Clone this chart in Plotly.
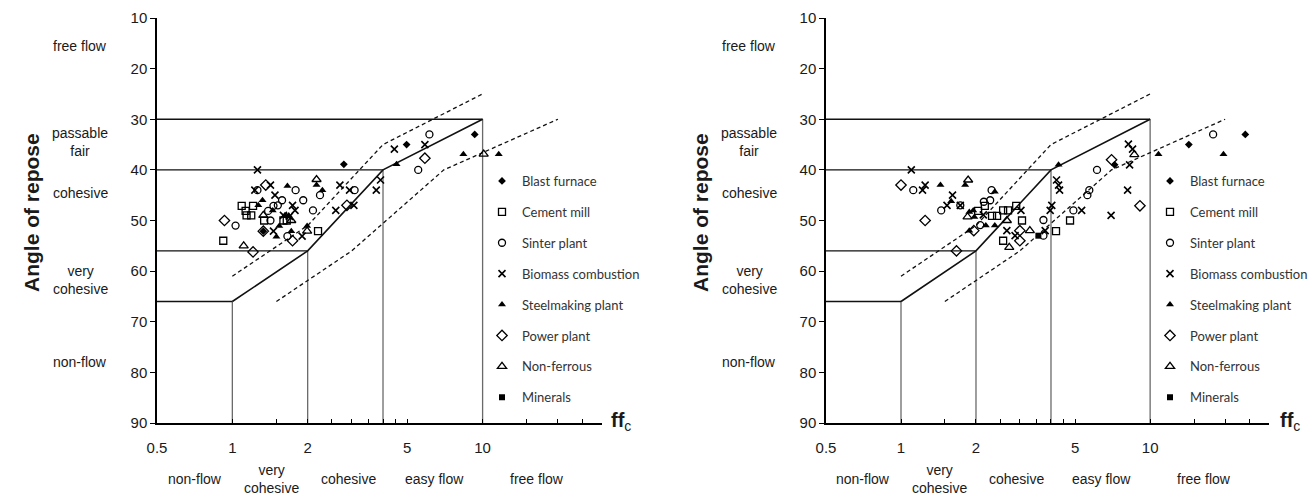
import math
import plotly.graph_objects as go

# ---------------- data ----------------
series_names = ["Blast furnace", "Cement mill", "Sinter plant", "Biomass combustion",
                "Steelmaking plant", "Power plant", "Non-ferrous", "Minerals"]

# left panel (ffc, angle of repose)
L_blast_ff = [2.79, 4.97, 9.3, 1.33]
L_blast_ang = [38.9, 35, 33, 52.1]
L_cement_ff = [1.09, 1.21, 1.13, 1.19, 1.14, 1.34, 1.6, 1.65, 2.2, 0.92]
L_cement_ang = [47.1, 47.1, 48.1, 49, 49, 50, 50, 50, 52.1, 54]
L_sinter_ff = [1.26, 1.79, 2.24, 3.08, 1.58, 1.92, 1.46, 1.39, 2.1, 1.03, 1.42, 1.66, 6.13, 5.53, 1.52]
L_sinter_ang = [44, 44, 45, 44, 46, 46, 47.1, 48.1, 48, 51, 50, 53.1, 33, 40, 47]
L_bio_ff = [1.26, 1.23, 1.42, 2.69, 2.94, 3.76, 3.91, 1.48, 1.74, 1.78, 1.6, 1.69, 1.46, 1.9,
            2.59, 3.06, 4.44, 5.88]
L_bio_ang = [40, 44, 43, 43, 44, 44, 42, 45, 47, 48, 49, 49.2, 52.1, 53.1, 48, 47, 35.9, 35]
L_steel_ff = [1.66, 2.17, 2.29, 1.32, 1.45, 1.27, 1.62, 1.68, 1.54, 1.5, 1.72, 1.99, 4.53, 8.38, 11.6]
L_steel_ang = [43.2, 43, 44, 46, 48, 47, 49, 49, 51.1, 53.2, 52.1, 51.1, 38.9, 36.9, 36.9]
L_power_ff = [1.36, 0.93, 1.33, 1.74, 1.21, 2.87, 5.88]
L_power_ang = [43, 50, 52.1, 54, 56.2, 47, 37.7]
L_nonfe_ff = [2.17, 1.33, 1.72, 1.99, 1.11, 10.1]
L_nonfe_ang = [41.9, 49, 50, 52.1, 55, 36.9]
L_min_ff = [None]
L_min_ang = [None]

# right panel
R_blast_ff = [7.2, 14.3, 24.1]
R_blast_ang = [39, 35, 33]
R_cement_ff = [2.17, 2.04, 2.57, 2.69, 2.32, 2.43, 2.9, 3.06, 4.77, 4.19, 2.57]
R_cement_ang = [47.1, 48.1, 48, 48, 49.1, 49.1, 47.1, 50, 50, 52.1, 54]
R_sinter_ff = [1.12, 2.31, 1.45, 1.73, 2.15, 2.28, 2.08, 3.73, 3.73, 6.12, 5.7, 5.6, 4.92, 17.9]
R_sinter_ang = [44, 44, 48, 47, 46.3, 46, 50.9, 49.9, 53, 40, 44, 45, 48, 33]
R_bio_ff = [1.10, 1.22, 1.25, 1.61, 1.53, 1.73, 2.14, 3.03, 2.66, 2.87, 3.79, 4.21, 4.29, 4.33,
            8.18, 8.5, 8.27, 8.12, 5.31, 6.97, 4.03, 3.97]
R_bio_ang = [40, 44, 43, 45, 47, 47, 48.9, 48, 52, 53, 52, 42, 43, 44,
             34.9, 35.9, 39, 44, 48, 49, 47, 48]
R_steel_ff = [1.44, 1.81, 2.38, 1.59, 1.88, 1.95, 1.97, 2.19, 2.38, 1.88, 4.29, 10.8, 19.7]
R_steel_ang = [43, 43, 44.3, 46.2, 48.3, 48, 49.3, 51, 51, 52, 39, 36.9, 36.9]
R_power_ff = [1.0, 1.25, 1.96, 3.0, 3.0, 1.67, 7.0, 9.1]
R_power_ang = [43, 50, 52, 52, 54, 56, 38, 47.1]
R_nonfe_ff = [1.86, 1.85, 2.66, 2.72, 3.29, 8.64]
R_nonfe_ang = [42, 49.3, 50, 55.3, 52, 37]
R_min_ff = [3.56]
R_min_ang = [53]

# classification boundaries (ffc classes vs angle of repose classes)
boundary_ff = [1, 2, 4, 10]
boundary_angle = [66, 56, 40, 30]
upper_ff = [1, 2, 4, 10]
upper_angle = [61, 51, 35, 25]
lower_ff = [1.5, 3, 7, 20]
lower_angle = [66, 56, 40, 30]

x_min, x_max = 0.5, 30
y_top, y_bottom = 10, 90

x_tickvals = [0.5, 1, 1.5, 2, 2.5, 3, 3.5, 4, 4.5, 5, 10, 15, 20, 25, 30]
x_ticktext = ["0.5", "1", "", "2", "", "", "", "", "", "5", "10", "", "", "", ""]
y_tickvals = [10, 20, 30, 40, 50, 60, 70, 80, 90]

x_class_labels = ["non-flow", "very<br>cohesive", "cohesive", "easy flow", "free flow"]
x_class_pos = [0.707, 1.43, 2.9, 6.4, 16.5]
y_class_labels = ["free flow", "passable<br>fair", "cohesive", "very<br>cohesive", "non-flow"]
y_class_pos = [15.5, 34.5, 44.6, 61.8, 78]

# ---------------- style ----------------
styles = [
    dict(symbol="diamond", size=6, color="black", line=dict(width=0)),
    dict(symbol="square-open", size=7, color="black", line=dict(width=1.3)),
    dict(symbol="circle-open", size=7, color="black", line=dict(width=1.3)),
    dict(symbol="x-thin", size=7, color="black", line=dict(width=1.6, color="black")),
    dict(symbol="triangle-up", size=7, color="black", line=dict(width=0)),
    dict(symbol="diamond-open", size=8, color="black", line=dict(width=1.3)),
    dict(symbol="triangle-up-open", size=8, color="black", line=dict(width=1.3)),
    dict(symbol="square", size=6, color="black", line=dict(width=0)),
]

left_sets = [(L_blast_ff, L_blast_ang), (L_cement_ff, L_cement_ang), (L_sinter_ff, L_sinter_ang),
             (L_bio_ff, L_bio_ang), (L_steel_ff, L_steel_ang), (L_power_ff, L_power_ang),
             (L_nonfe_ff, L_nonfe_ang), (L_min_ff, L_min_ang)]
right_sets = [(R_blast_ff, R_blast_ang), (R_cement_ff, R_cement_ang), (R_sinter_ff, R_sinter_ang),
              (R_bio_ff, R_bio_ang), (R_steel_ff, R_steel_ang), (R_power_ff, R_power_ang),
              (R_nonfe_ff, R_nonfe_ang), (R_min_ff, R_min_ang)]

fig = go.Figure()

TXT = "#1a1a1a"
FONT = "Liberation Sans, Arial, sans-serif"


def add_frame(xa, ya):
    hx, hy, vx, vy = [], [], [], []
    for f, a in zip(boundary_ff, boundary_angle):
        hx += [x_min, f, None]
        hy += [a, a, None]
        vx += [f, f, None]
        vy += [a, y_bottom, None]
    fig.add_trace(go.Scatter(x=vx, y=vy, mode="lines", line=dict(color="#6a6a6a", width=1.3),
                             xaxis=xa, yaxis=ya, showlegend=False, hoverinfo="skip"))
    fig.add_trace(go.Scatter(x=hx, y=hy, mode="lines", line=dict(color="#111", width=1.3),
                             xaxis=xa, yaxis=ya, showlegend=False, hoverinfo="skip"))
    fig.add_trace(go.Scatter(x=boundary_ff, y=boundary_angle, mode="lines",
                             line=dict(color="#111", width=1.6),
                             xaxis=xa, yaxis=ya, showlegend=False, hoverinfo="skip"))
    for fx, fy in ((upper_ff, upper_angle), (lower_ff, lower_angle)):
        fig.add_trace(go.Scatter(x=fx, y=fy, mode="lines",
                                 line=dict(color="#111", width=1.3, dash="4px,3px"),
                                 xaxis=xa, yaxis=ya, showlegend=False, hoverinfo="skip"))


add_frame("x", "y")
add_frame("x2", "y2")

for i, (name, st) in enumerate(zip(series_names, styles)):
    fx, fy = left_sets[i]
    fig.add_trace(go.Scatter(x=fx, y=fy, mode="markers", name=name, marker=st,
                             xaxis="x", yaxis="y", legend="legend", legendgroup="L%d" % i,
                             showlegend=True))
    fx, fy = right_sets[i]
    fig.add_trace(go.Scatter(x=fx, y=fy, mode="markers", name=name, marker=st,
                             xaxis="x2", yaxis="y2", legend="legend2", legendgroup="R%d" % i,
                             showlegend=True))

axis_common_x = dict(type="log", range=[math.log10(x_min), math.log10(x_max)],
                     showline=True, linecolor="black", linewidth=1.5, mirror=False,
                     ticks="inside", ticklen=4, tickwidth=1.3, tickcolor="black",
                     tickvals=x_tickvals, ticktext=x_ticktext, showgrid=False, zeroline=False,
                     tickfont=dict(family=FONT, size=15, color=TXT), ticklabelstandoff=10,
                     automargin=False)
axis_common_y = dict(range=[y_bottom, y_top], showline=True, linecolor="black", linewidth=1.5,
                     ticks="outside", ticklen=5, tickwidth=1.3, tickcolor="black",
                     tickvals=y_tickvals, showgrid=False, zeroline=False,
                     tickfont=dict(family=FONT, size=15, color=TXT), automargin=False)

# page body margin shifts the figure by OFF px; positions below are given in
# screenshot pixels and converted to figure pixels.
OFF = 8
W, H = 1316, 494
plot_left, plot_right, plot_top, plot_bottom = 157 - OFF, 1269 - OFF, 18 - OFF, 423 - OFF
ml, mr, mt, mb = plot_left, W - plot_right, plot_top, H - plot_bottom
pw = W - ml - mr
ph = H - mt - mb


def px_to_paper_x(px):
    return (px - OFF - ml) / pw


def py_to_paper_y(py):
    return (H - mb - (py - OFF)) / ph


d_left = [0, px_to_paper_x(602)]
d_right = [px_to_paper_x(826), 1]

annotations = []
for xa, ya, yaxis_px in (("x", "y", 157), ("x2", "y2", 826)):
    for lab, pos in zip(x_class_labels, x_class_pos):
        annotations.append(dict(x=math.log10(pos), xref=xa, y=py_to_paper_y(479), yref="paper",
                                text=lab, showarrow=False, xanchor="center", yanchor="middle",
                                font=dict(family=FONT, size=14, color=TXT)))
    for lab, pos in zip(y_class_labels, y_class_pos):
        annotations.append(dict(x=px_to_paper_x(yaxis_px - 77), xref="paper", y=pos, yref=ya,
                                text=lab, showarrow=False, xanchor="center", yanchor="middle",
                                font=dict(family=FONT, size=14, color=TXT)))
    annotations.append(dict(x=px_to_paper_x(yaxis_px - 126), xref="paper",
                            y=py_to_paper_y(213), yref="paper", text="<b>Angle of repose</b>",
                            textangle=-90, showarrow=False, xanchor="center", yanchor="middle",
                            font=dict(family=FONT, size=21, color=TXT)))
    annotations.append(dict(x=px_to_paper_x(yaxis_px + 452), xref="paper",
                            y=py_to_paper_y(421), yref="paper",
                            text="<b>ff</b><sub>c</sub>", showarrow=False,
                            xanchor="left", yanchor="middle",
                            font=dict(family=FONT, size=20, color=TXT)))

legend_common = dict(font=dict(family="Lato, Open Sans, sans-serif", size=13, color="#333"),
                     bgcolor="rgba(0,0,0,0)", traceorder="grouped", tracegroupgap=11,
                     xanchor="left", yanchor="top", y=py_to_paper_y(166))

fig.update_layout(
    width=W, height=H,
    margin=dict(l=ml, r=mr, t=mt, b=mb, autoexpand=False),
    plot_bgcolor="white", paper_bgcolor="white",
    xaxis=dict(domain=d_left, anchor="y", **axis_common_x),
    yaxis=dict(domain=[0, 1], anchor="x", **axis_common_y),
    xaxis2=dict(domain=d_right, anchor="y2", **axis_common_x),
    yaxis2=dict(domain=[0, 1], anchor="x2", **axis_common_y),
    legend=dict(x=px_to_paper_x(482), **legend_common),
    legend2=dict(x=px_to_paper_x(1150), **legend_common),
    annotations=annotations,
    showlegend=True,
)

fig.write_html("out.html")
